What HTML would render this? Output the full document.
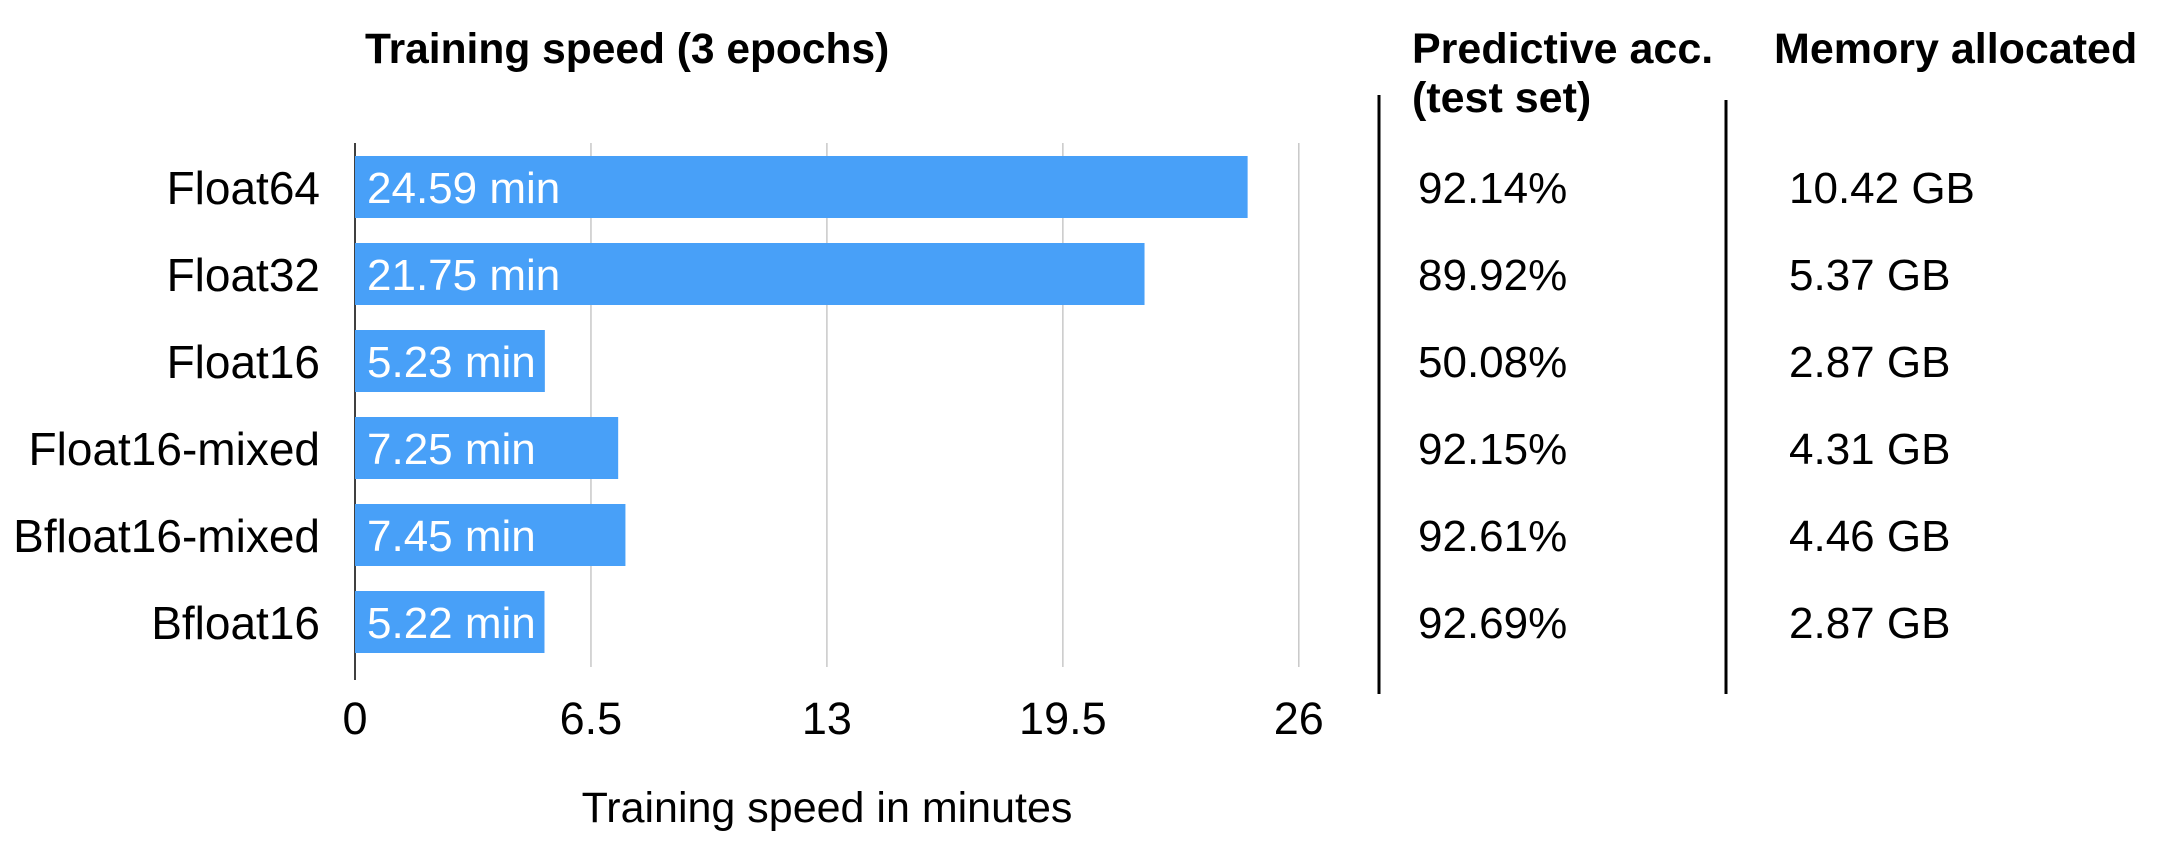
<!DOCTYPE html>
<html><head><meta charset="utf-8"><style>
html,body{margin:0;padding:0;background:#fff;}
svg{display:block;font-family:"Liberation Sans",Arial,sans-serif;}
</style></head><body>
<svg id="chart" width="2160" height="846" viewBox="0 0 2160 846" xmlns="http://www.w3.org/2000/svg">
<text x="365" y="63" font-size="42.5" font-weight="bold">Training speed (3 epochs)</text>
<text x="1412" y="63" font-size="43" font-weight="bold">Predictive acc.</text>
<text x="1412" y="112" font-size="43" font-weight="bold">(test set)</text>
<text x="1774" y="63" font-size="43" font-weight="bold">Memory allocated</text>
<line x1="1379" y1="95" x2="1379" y2="694" stroke="#000" stroke-width="3"/>
<line x1="1726" y1="100" x2="1726" y2="694" stroke="#000" stroke-width="3"/>
<text x="827" y="822" font-size="43" text-anchor="middle">Training speed in minutes</text>
<g id="grid"></g><g id="bars"></g><g id="labels"></g>
</svg>
<script>
const categories = ["Float64","Float32","Float16","Float16-mixed","Bfloat16-mixed","Bfloat16"];
const speedValues = [24.59,21.75,5.23,7.25,7.45,5.22];
const accuracyLabels = ["92.14%","89.92%","50.08%","92.15%","92.61%","92.69%"];
const memoryLabels = ["10.42 GB","5.37 GB","2.87 GB","4.31 GB","4.46 GB","2.87 GB"];
const xTicks = [0,6.5,13,19.5,26];
const xTickLabels = ["0","6.5","13","19.5","26"];

const NS = "http://www.w3.org/2000/svg";
const x0 = 355, pxPerUnit = 36.3;
function xScale(v){ return x0 + v * pxPerUnit; }
function yTop(i){ return 156 + i * 87; }
const barH = 62;
function mk(tag, attrs, parent, txt){
  const e = document.createElementNS(NS, tag);
  for (const k in attrs) e.setAttribute(k, attrs[k]);
  if (txt !== undefined) e.textContent = txt;
  parent.appendChild(e);
  return e;
}
const grid = document.getElementById('grid');
const bars = document.getElementById('bars');
const labels = document.getElementById('labels');
xTicks.forEach((t, i) => {
  if (i > 0) {
    const g = mk('line', {x1:xScale(t), x2:xScale(t), y1:143, y2:667, stroke:'#c8c8c8', 'stroke-width':1.5}, grid);
    
    
  }
  const tl = mk('text', {x:xScale(t), y:734, 'font-size':45, 'text-anchor':'middle'}, labels, xTickLabels[i]);
  
  
});
categories.forEach((c, i) => {
  const y = yTop(i);
  const r = mk('rect', {x:x0, y:y, width:xScale(speedValues[i]) - x0, height:barH, fill:'#48a0f8'}, bars);
  
  
  const bl = mk('text', {x:x0 + 12, y:y + 47, 'font-size':44, fill:'#fff'}, labels, speedValues[i].toFixed(2) + ' min');
  
  
  const cl = mk('text', {x:320, y:y + 48, 'font-size':46, 'text-anchor':'end'}, labels, c);
  
  
  const al = mk('text', {x:1418, y:y + 47, 'font-size':44}, labels, accuracyLabels[i]);
  
  
  const ml = mk('text', {x:1789, y:y + 47, 'font-size':44}, labels, memoryLabels[i]);
  
  
});
const ax = mk('line', {x1:x0, x2:x0, y1:143, y2:680, stroke:'#000', 'stroke-width':1.5}, grid);


</script>
</body></html>
